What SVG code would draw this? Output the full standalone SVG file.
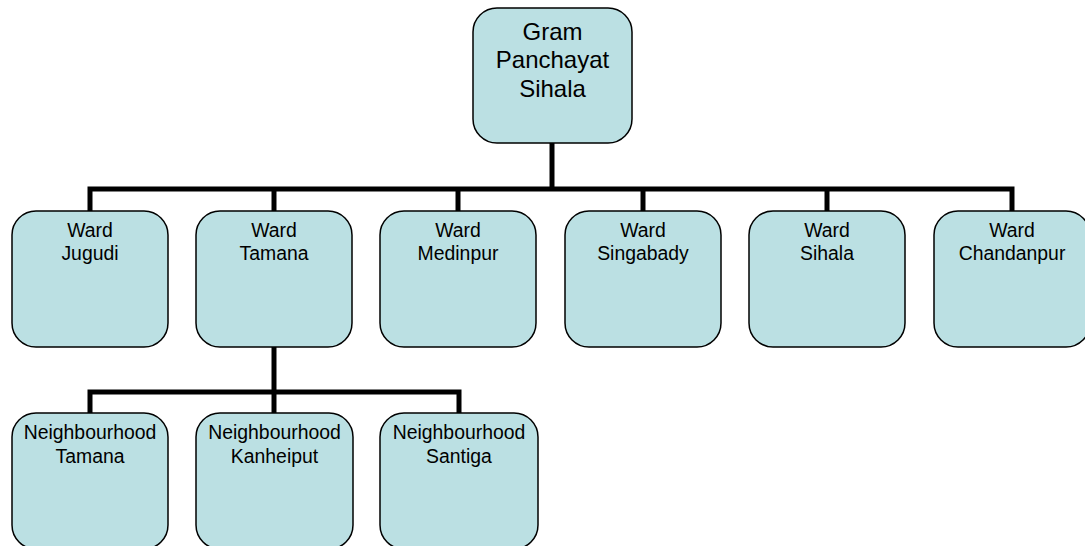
<svg xmlns="http://www.w3.org/2000/svg" width="1085" height="546" viewBox="0 0 1085 546">
<style>
.box{fill:#BBE0E3;stroke:#000;stroke-width:1.5}
.lbl{font-family:"Liberation Sans",Arial,sans-serif;font-size:19.4px;fill:#000;text-anchor:middle}
.big{font-size:24px}
.conn{fill:none;stroke:#000;stroke-width:5;stroke-linejoin:miter;stroke-linecap:butt}
</style>
<rect width="1085" height="546" fill="#fff"/>
<g id="connectors">
<path class="conn" d="M552,143 V189"/>
<path class="conn" d="M90,211 V189 H1012 V211"/>
<path class="conn" d="M274,189 V211"/>
<path class="conn" d="M458,189 V211"/>
<path class="conn" d="M643,189 V211"/>
<path class="conn" d="M827,189 V211"/>
<path class="conn" d="M274,347 V392"/>
<path class="conn" d="M90,413 V392 H459 V413"/>
<path class="conn" d="M274,392 V413"/>
</g>
<g id="gp">
<rect class="box" x="473" y="8" width="159" height="135" rx="24"/>
<text class="lbl big" x="552.5" y="40">Gram</text>
<text class="lbl big" x="552.5" y="68">Panchayat</text>
<text class="lbl big" x="552.5" y="97">Sihala</text>
</g>
<g id="ward-jugudi">
<rect class="box" x="12" y="211" width="156" height="136" rx="24"/>
<text class="lbl" x="90" y="237">Ward</text>
<text class="lbl" x="90" y="260">Jugudi</text>
</g>
<g id="ward-tamana">
<rect class="box" x="196" y="211" width="156" height="136" rx="24"/>
<text class="lbl" x="274" y="237">Ward</text>
<text class="lbl" x="274" y="260">Tamana</text>
</g>
<g id="ward-medinpur">
<rect class="box" x="380" y="211" width="156" height="136" rx="24"/>
<text class="lbl" x="458" y="237">Ward</text>
<text class="lbl" x="458" y="260">Medinpur</text>
</g>
<g id="ward-singabady">
<rect class="box" x="565" y="211" width="156" height="136" rx="24"/>
<text class="lbl" x="643" y="237">Ward</text>
<text class="lbl" x="643" y="260">Singabady</text>
</g>
<g id="ward-sihala">
<rect class="box" x="749" y="211" width="156" height="136" rx="24"/>
<text class="lbl" x="827" y="237">Ward</text>
<text class="lbl" x="827" y="260">Sihala</text>
</g>
<g id="ward-chandanpur">
<rect class="box" x="934" y="211" width="156" height="136" rx="24"/>
<text class="lbl" x="1012" y="237">Ward</text>
<text class="lbl" x="1012" y="260">Chandanpur</text>
</g>
<g id="nb-tamana">
<rect class="box" x="12" y="413" width="156" height="136" rx="24"/>
<text class="lbl" x="90" y="439">Neighbourhood</text>
<text class="lbl" x="90" y="463">Tamana</text>
</g>
<g id="nb-kanheiput">
<rect class="box" x="196" y="413" width="157" height="136" rx="24"/>
<text class="lbl" x="274.5" y="439">Neighbourhood</text>
<text class="lbl" x="274.5" y="463">Kanheiput</text>
</g>
<g id="nb-santiga">
<rect class="box" x="380" y="413" width="158" height="136" rx="24"/>
<text class="lbl" x="459" y="439">Neighbourhood</text>
<text class="lbl" x="459" y="463">Santiga</text>
</g>
</svg>
